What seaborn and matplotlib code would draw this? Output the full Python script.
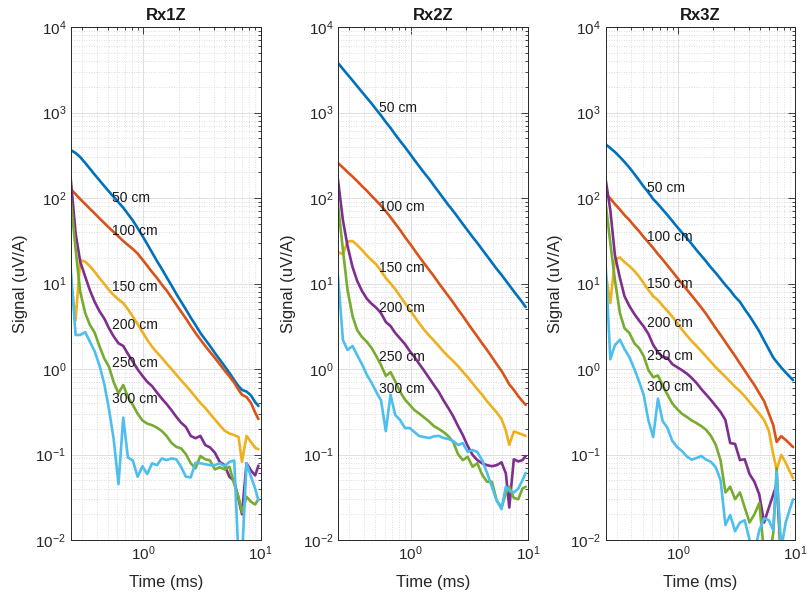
import numpy as np
import pandas as pd
import matplotlib
matplotlib.use("Agg")
import matplotlib.pyplot as plt
import seaborn as sns
from matplotlib.ticker import LogLocator, NullFormatter, FixedLocator, LogFormatterSciNotation

# ---------------- data ----------------
time_ms = [0.24, 0.265, 0.29, 0.32, 0.35, 0.385, 0.425, 0.465, 0.51, 0.56, 0.615, 0.675, 0.74,
           0.815, 0.895, 0.985, 1.08, 1.19, 1.31, 1.44, 1.58, 1.74, 1.91, 2.1, 2.31, 2.54, 2.79,
           3.07, 3.38, 3.71, 4.08, 4.49, 4.94, 5.43, 5.97, 6.5, 6.95, 7.6, 8.3, 9.0, 9.6]

offsets = ["50 cm", "100 cm", "150 cm", "200 cm", "250 cm", "300 cm"]
titles = ["Rx1Z", "Rx2Z", "Rx3Z"]
x_ticks = [1, 10]
y_ticks = [1e-2, 1e-1, 1e0, 1e1, 1e2, 1e3, 1e4]

# Rx1Z
rx1_50 = [364, 336, 301, 257, 221, 188, 160, 138, 119, 103, 89, 77, 65, 54.6, 44.6, 36, 29, 23, 18.3,
          14.8, 11.9, 9.5, 7.6, 6.15, 4.97, 4.0, 3.27, 2.64, 2.21, 1.86, 1.54, 1.29, 1.08, 0.90, 0.74,
          0.63, 0.57, 0.545, 0.49, 0.41, 0.37]
rx1_100 = [127, 111, 97, 85, 75, 66, 57.5, 51, 45, 40, 35.5, 31.4, 28.2, 25.3, 22.4, 19, 16.2, 13.6,
           11.6, 9.7, 8.3, 6.86, 5.68, 4.7, 3.9, 3.18, 2.64, 2.21, 1.86, 1.58, 1.35, 1.14, 0.96, 0.82,
           0.69, 0.57, 0.50, 0.47, 0.40, 0.31, 0.26]
rx1_150 = [12, 3.7, 18.8, 18, 16, 13.7, 11.5, 9.9, 8.4, 7.3, 6.5, 5.9, 5.0, 4.1, 3.35, 2.7, 2.2, 1.82,
           1.56, 1.35, 1.16, 1.0, 0.86, 0.74, 0.64, 0.55, 0.47, 0.40, 0.35, 0.30, 0.257, 0.22, 0.19,
           0.176, 0.169, 0.16, 0.082, 0.165, 0.14, 0.12, 0.115]
rx1_200 = [175, 38.6, 18, 12, 8.4, 6.1, 4.7, 3.9, 3.0, 2.4, 2.0, 1.86, 1.5, 1.22, 0.99, 0.83, 0.71,
           0.63, 0.53, 0.45, 0.39, 0.33, 0.277, 0.236, 0.21, 0.165, 0.155, 0.165, 0.129, 0.121, 0.105,
           0.082, 0.075, 0.055, 0.049, 0.03, 0.02, 0.079, 0.065, 0.057, 0.074]
rx1_250 = [100, 25, 8, 4.5, 3.3, 2.66, 1.82, 1.33, 1.06, 0.7, 0.52, 0.65, 0.47, 0.38, 0.30, 0.25, 0.23,
           0.22, 0.206, 0.188, 0.165, 0.137, 0.123, 0.118, 0.101, 0.079, 0.069, 0.096, 0.088, 0.085,
           0.067, 0.071, 0.067, 0.072, 0.045, 0.032, 0.021, 0.032, 0.028, 0.026, 0.03]
rx1_300 = [15.7, 2.5, 2.5, 2.7, 2.1, 1.61, 1.08, 0.67, 0.34, 0.15, 0.045, 0.27, 0.092, 0.085, 0.055,
           0.073, 0.059, 0.079, 0.075, 0.09, 0.086, 0.09, 0.088, 0.072, 0.055, 0.054, 0.080, 0.079,
           0.077, 0.075, 0.075, 0.079, 0.073, 0.082, 0.085, 0.006, 0.006, 0.079, 0.055, 0.04, 0.029]

# Rx2Z
rx2_50 = [3800, 3230, 2780, 2370, 2040, 1738, 1478, 1274, 1084, 922, 774, 659, 553, 464, 395, 331, 278,
          233, 196, 167, 140, 117.5, 98.6, 82.8, 70.5, 59.2, 49.6, 41.7, 35, 29.8, 25, 21, 17.6, 14.8,
          12.6, 10.8, 9.55, 8.1, 6.93, 6.0, 5.3]
rx2_100 = [257, 227, 201, 178, 158, 138, 121, 106, 93, 81, 70, 59.5, 50.3, 42.2, 35, 29.4, 24.6, 20.4,
           17.1, 14.4, 12.2, 10.1, 8.5, 7.14, 6.0, 4.97, 4.17, 3.45, 2.86, 2.4, 1.99, 1.67, 1.38, 1.14,
           0.95, 0.78, 0.66, 0.57, 0.48, 0.42, 0.38]
rx2_150 = [23.4, 22, 31, 31.4, 28.2, 24.7, 21.2, 18.8, 16.7, 14, 11.6, 10, 8.6, 7.1, 5.9, 4.9, 4.1, 3.4,
           2.86, 2.47, 2.15, 1.86, 1.6, 1.4, 1.24, 1.08, 0.93, 0.8, 0.68, 0.58, 0.50, 0.42, 0.36, 0.31,
           0.26, 0.19, 0.13, 0.186, 0.178, 0.171, 0.165]
rx2_200 = [167, 55, 27.5, 15.6, 10.8, 8.2, 6.6, 5.8, 5.2, 4.5, 3.55, 3.18, 2.64, 2.27, 1.96, 1.62, 1.38,
           1.14, 0.95, 0.785, 0.65, 0.54, 0.43, 0.35, 0.28, 0.215, 0.169, 0.126, 0.099, 0.086, 0.079,
           0.075, 0.073, 0.075, 0.081, 0.06, 0.024, 0.088, 0.083, 0.086, 0.096]
rx2_250 = [87, 24.7, 8.4, 4.17, 2.86, 2.37, 2.07, 1.76, 1.42, 1.11, 0.83, 0.92, 0.72, 0.54, 0.44, 0.38,
           0.33, 0.30, 0.27, 0.243, 0.215, 0.199, 0.183, 0.164, 0.14, 0.101, 0.086, 0.094, 0.072, 0.079,
           0.058, 0.048, 0.048, 0.029, 0.024, 0.035, 0.042, 0.031, 0.03, 0.04, 0.042]
rx2_300 = [12.6, 2.18, 1.67, 1.86, 1.46, 1.14, 0.85, 0.69, 0.54, 0.43, 0.188, 0.50, 0.29, 0.253, 0.204,
           0.204, 0.183, 0.164, 0.16, 0.156, 0.163, 0.165, 0.156, 0.152, 0.144, 0.129, 0.136, 0.107,
           0.113, 0.107, 0.086, 0.061, 0.042, 0.029, 0.023, 0.042, 0.038, 0.036, 0.04, 0.05, 0.061]

# Rx3Z
rx3_50 = [428, 384, 345, 302, 264, 227, 191, 162, 136, 116, 97, 85, 73.3, 63, 53.8, 45.8, 39.5, 34, 29,
          24.6, 21.2, 18.1, 15.4, 13.3, 11.3, 9.6, 8.3, 7.0, 6.1, 5.0, 4.17, 3.4, 2.75, 2.15, 1.69,
          1.36, 1.21, 1.04, 0.91, 0.81, 0.74]
rx3_100 = [114, 98.6, 85, 73.3, 63.2, 55.3, 47, 41, 35, 30.2, 26, 22.1, 19.1, 16.2, 13.8, 11.7, 10, 8.5,
           7.24, 6.16, 5.24, 4.4, 3.64, 3.0, 2.5, 2.07, 1.71, 1.42, 1.16, 0.96, 0.785, 0.65, 0.52, 0.42,
           0.30, 0.22, 0.14, 0.164, 0.148, 0.133, 0.122]
rx3_150 = [14, 5.9, 19, 20.2, 17.8, 16, 14, 12.1, 10.1, 8.4, 7.1, 6.4, 5.5, 4.77, 4.1, 3.45, 2.9, 2.47,
           2.12, 1.86, 1.62, 1.4, 1.21, 1.05, 0.92, 0.81, 0.71, 0.62, 0.55, 0.48, 0.41, 0.35, 0.30,
           0.253, 0.188, 0.10, 0.066, 0.099, 0.08, 0.063, 0.053]
rx3_200 = [176, 72, 21.5, 11.6, 7.1, 5.46, 4.4, 3.7, 3.14, 2.57, 1.91, 1.58, 1.38, 1.35, 1.14, 1.05, 0.97,
           0.885, 0.785, 0.686, 0.583, 0.503, 0.434, 0.37, 0.314, 0.253, 0.136, 0.133, 0.086, 0.088,
           0.059, 0.048, 0.034, 0.016, 0.024, 0.034, 0.045, 0.006, 0.005, 0.005, 0.005]
rx3_250 = [95, 29.8, 11, 4.5, 3.0, 2.64, 2.0, 1.76, 1.42, 0.97, 0.80, 0.84, 0.64, 0.50, 0.395, 0.34,
           0.30, 0.275, 0.25, 0.233, 0.215, 0.194, 0.165, 0.13, 0.085, 0.036, 0.042, 0.03, 0.036, 0.024,
           0.016, 0.02, 0.027, 0.007, 0.006, 0.012, 0.069, 0.005, 0.005, 0.005, 0.005]
rx3_300 = [20.4, 1.3, 1.9, 2.2, 1.71, 1.38, 1.0, 0.72, 0.5, 0.25, 0.16, 0.45, 0.246, 0.204, 0.144, 0.122,
           0.11, 0.095, 0.087, 0.091, 0.096, 0.087, 0.082, 0.071, 0.05, 0.015, 0.0196, 0.0127, 0.016,
           0.017, 0.01, 0.007, 0.013, 0.018, 0.017, 0.013, 0.062, 0.008, 0.016, 0.023, 0.03]

# label anchor values (signal units) at t = label_time, one per offset
label_time = 0.54
rx1_label_y = [99, 41.5, 9.0, 3.27, 1.17, 0.45]
rx2_label_y = [1120, 79, 15.1, 5.13, 1.37, 0.58]
rx3_label_y = [130, 34.7, 10, 3.42, 1.42, 0.62]

panels = [
    ("Rx1Z", [rx1_50, rx1_100, rx1_150, rx1_200, rx1_250, rx1_300], rx1_label_y),
    ("Rx2Z", [rx2_50, rx2_100, rx2_150, rx2_200, rx2_250, rx2_300], rx2_label_y),
    ("Rx3Z", [rx3_50, rx3_100, rx3_150, rx3_200, rx3_250, rx3_300], rx3_label_y),
]

colors = ["#0072BD", "#D95319", "#EDB120", "#7E2F8E", "#77AC30", "#4DBEEE"]

# ---------------- style ----------------
sns.set_theme(style="white")
plt.rcParams["font.family"] = ["Liberation Sans", "DejaVu Sans"]
plt.rcParams["mathtext.fontset"] = "custom"
plt.rcParams["mathtext.rm"] = "Liberation Sans"
plt.rcParams["mathtext.it"] = "Liberation Sans:italic"
plt.rcParams["mathtext.bf"] = "Liberation Sans:bold"
plt.rcParams["axes.unicode_minus"] = False

ink = "#262626"
fig = plt.figure(figsize=(8.07, 6.05), dpi=100)
W, H = 807.0, 605.0
lefts = [71, 338.3, 605.7]
ax_w, ax_b, ax_h = 189.5, 65, 513

for (title, series, lab_y), left in zip(panels, lefts):
    ax = fig.add_axes([left / W, ax_b / H, ax_w / W, ax_h / H])
    frames = []
    for name, vals in zip(offsets, series):
        frames.append(pd.DataFrame({"Time": time_ms, "Signal": vals, "Offset": name}))
    df = pd.concat(frames, ignore_index=True)
    sns.lineplot(data=df, x="Time", y="Signal", hue="Offset", hue_order=offsets,
                 palette=colors, ax=ax, legend=False, linewidth=1.9,
                 estimator=None, sort=False)
    ax.set_xscale("log")
    ax.set_yscale("log")
    ax.set_xlim(0.242, 10)
    ax.set_ylim(1e-2, 1e4)

    ax.yaxis.set_major_locator(FixedLocator(y_ticks))
    ax.xaxis.set_major_locator(FixedLocator(x_ticks))
    ax.yaxis.set_major_formatter(LogFormatterSciNotation())
    ax.xaxis.set_major_formatter(LogFormatterSciNotation())
    ax.yaxis.set_minor_locator(LogLocator(base=10, subs=np.arange(2, 10), numticks=20))
    ax.xaxis.set_minor_locator(LogLocator(base=10, subs=np.arange(2, 10), numticks=20))
    ax.xaxis.set_minor_formatter(NullFormatter())
    ax.yaxis.set_minor_formatter(NullFormatter())

    ax.grid(True, which="major", color="#dedede", linewidth=0.7, linestyle="-")
    ax.grid(True, which="minor", color="#d2d2d2", linewidth=0.6, linestyle=(0, (1, 2)))
    ax.set_axisbelow(True)

    ax.tick_params(which="both", direction="in", top=True, right=True, colors=ink,
                   labelsize=11, width=0.6)
    ax.tick_params(which="major", length=5)
    ax.tick_params(which="minor", length=2.5)
    for sp in ax.spines.values():
        sp.set_color(ink)
        sp.set_linewidth(0.7)

    for name, yv in zip(offsets, lab_y):
        ax.text(label_time, yv, name, fontsize=10, ha="left", va="center", color="#1a1a1a")

    ax.set_title(title, fontsize=12, fontweight="bold", color="#1a1a1a", pad=5)
    ax.set_xlabel("Time (ms)", fontsize=12, color=ink, labelpad=8)
    ax.set_ylabel("Signal (uV/A)", fontsize=12, color=ink, labelpad=5)

fig.savefig("out.png", dpi=100)
